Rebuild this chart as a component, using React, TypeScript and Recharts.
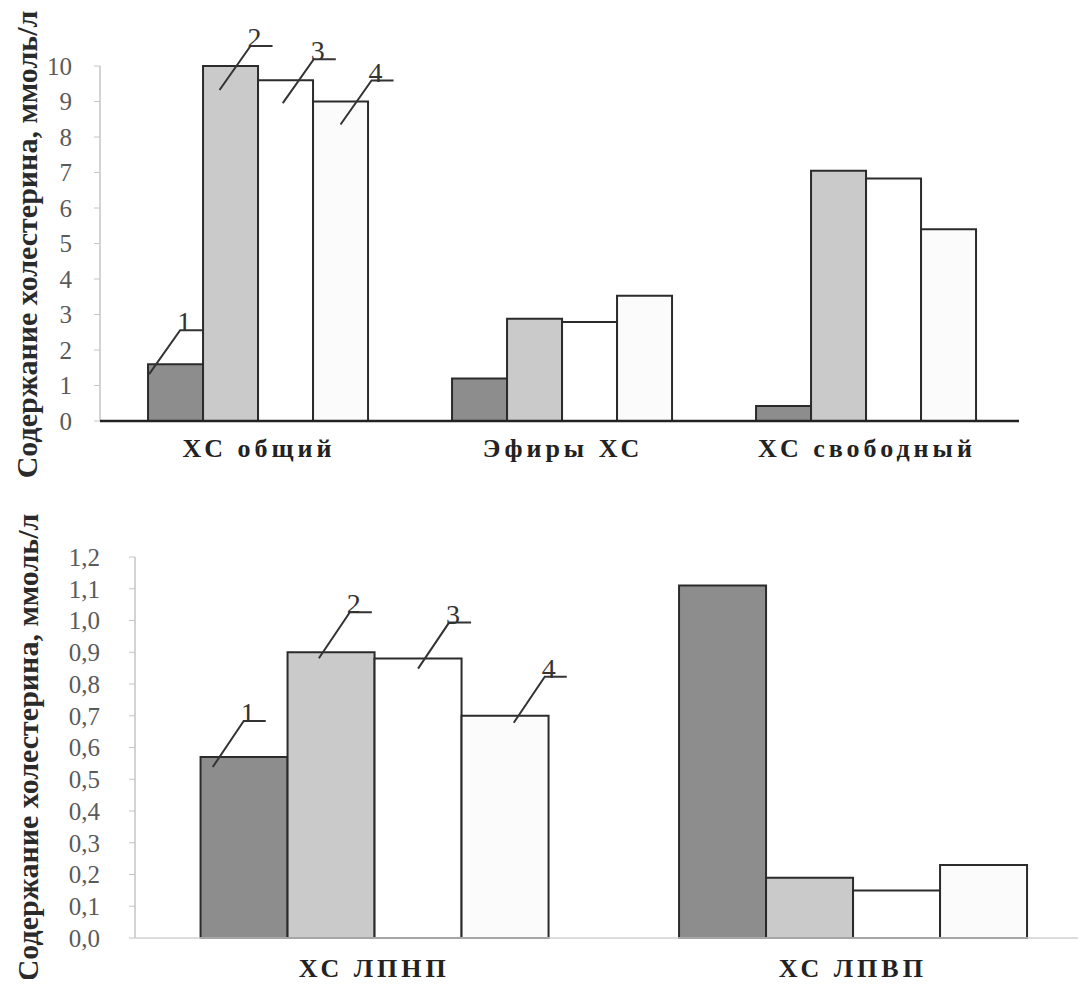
import React from 'react';
import { BarChart, Bar, XAxis, YAxis, LabelList } from 'recharts';

// top chart: total / esters / free cholesterol, mmol/l
const TOP_CATEGORIES = ['ХС общий', 'Эфиры ХС', 'ХС свободный'];
const TOP_GROUP1 = [1.6, 1.2, 0.42];
const TOP_GROUP2 = [10.0, 2.88, 7.05];
const TOP_GROUP3 = [9.6, 2.79, 6.83];
const TOP_GROUP4 = [9.0, 3.53, 5.4];
const TOP_TICKS = [0, 1, 2, 3, 4, 5, 6, 7, 8, 9, 10];

// bottom chart: LDL / HDL cholesterol, mmol/l
const BOTTOM_CATEGORIES = ['ХС ЛПНП', 'ХС ЛПВП'];
const BOTTOM_GROUP1 = [0.57, 1.11];
const BOTTOM_GROUP2 = [0.9, 0.19];
const BOTTOM_GROUP3 = [0.88, 0.15];
const BOTTOM_GROUP4 = [0.7, 0.23];
const BOTTOM_TICKS = [0, 0.1, 0.2, 0.3, 0.4, 0.5, 0.6, 0.7, 0.8, 0.9, 1.0, 1.1, 1.2];

const SERIES_NAMES = ['1', '2', '3', '4'];
const Y_TITLE = 'Содержание холестерина, ммоль/л';

const topData = TOP_CATEGORIES.map((name, i) => ({
  name, g1: TOP_GROUP1[i], g2: TOP_GROUP2[i], g3: TOP_GROUP3[i], g4: TOP_GROUP4[i],
}));
const bottomData = BOTTOM_CATEGORIES.map((name, i) => ({
  name, g1: BOTTOM_GROUP1[i], g2: BOTTOM_GROUP2[i], g3: BOTTOM_GROUP3[i], g4: BOTTOM_GROUP4[i],
}));

const SERIF = '"Liberation Serif", "DejaVu Serif", serif';
const FILLS = ['#8d8d8d', '#cacaca', '#ffffff', '#fbfbfb'];
const STROKE = '#2b2b2b';

// leader line shapes (start inside bar, up-right, then a short horizontal)
const TOP_LEADER = { fx: [0.02, 0.3, 0.45, 0.5], dy: [10, 24, 23, 23], jdx: 31, jdy: -44, len: 22 };
const BOTTOM_LEADER = { fx: [0.14, 0.36, 0.5, 0.6], dy: [10, 6, 10, 7], jdx: 31, jdy: -46, len: 22 };

const makeLeader = (s: number, cfg: typeof TOP_LEADER) => (props: any) => {
  if (props.index !== 0) return null;
  const vb = props.viewBox || {};
  const x = props.x ?? vb.x;
  const y = props.y ?? vb.y;
  const width = props.width ?? vb.width;
  const sx = x + width * cfg.fx[s];
  const sy = y + cfg.dy[s];
  const jx = sx + cfg.jdx;
  const jy = sy + cfg.jdy;
  return (
    <g>
      <polyline
        points={`${sx},${sy} ${jx},${jy} ${jx + cfg.len},${jy}`}
        fill="none"
        stroke="#333"
        strokeWidth={2}
      />
      <text x={jx + 4} y={jy + 1} textAnchor="middle" fontFamily={SERIF} fontSize={28} fill="#333">
        {SERIES_NAMES[s]}
      </text>
    </g>
  );
};

const makeTitle = (cx: number, shift: number) => (props: any) => {
  const vb = props.viewBox;
  const cy = vb.y + vb.height / 2 + shift;
  return (
    <text
      x={cx}
      y={cy}
      transform={`rotate(-90, ${cx}, ${cy})`}
      textAnchor="middle"
      fontFamily={SERIF}
      fontWeight="bold"
      fontSize={30}
      fill="#2a2a2a"
    >
      {Y_TITLE}
    </text>
  );
};

const yTick = { fontFamily: SERIF, fontSize: 25, fill: '#5a5a5a' };
const xTick = { fontFamily: SERIF, fontSize: 26, fontWeight: 'bold' as const, fill: '#222', letterSpacing: 4 };

export default function App() {
  const keys = ['g1', 'g2', 'g3', 'g4'];
  return (
    <div style={{ position: 'relative', width: 1086, height: 987, overflow: 'hidden', margin: -8, background: '#fff' }}>
      <div style={{ position: 'absolute', left: 0, top: 0 }}>
        <BarChart
          width={1086}
          height={480}
          data={topData}
          margin={{ top: 66, right: 67, bottom: 19, left: 0 }}
          barCategoryGap="13.5%"
          barGap={0}
        >
          <YAxis
            width={100}
            domain={[0, 10]}
            ticks={TOP_TICKS}
            interval={0}
            axisLine={{ stroke: '#c4c4c4', strokeWidth: 1.5 }}
            tickLine={{ stroke: '#c4c4c4' }}
            tickSize={6}
            tickMargin={22}
            tick={yTick}
            label={makeTitle(37, 1) as any}
          />
          <XAxis
            dataKey="name"
            height={40}
            padding={{ left: 7, right: 0 }}
            axisLine={{ stroke: '#222', strokeWidth: 2.5 }}
            tickLine={false}
            tickMargin={12}
            tick={xTick}
          />
          {keys.map((k, s) => (
            <Bar key={k} dataKey={k} fill={FILLS[s]} stroke={STROKE} strokeWidth={2} isAnimationActive={false}>
              <LabelList dataKey={k} content={makeLeader(s, TOP_LEADER)} />
            </Bar>
          ))}
        </BarChart>
      </div>
      <div style={{ position: 'absolute', left: 0, top: 490 }}>
        <BarChart
          width={1100}
          height={497}
          data={bottomData}
          margin={{ top: 67, right: 8, bottom: 9, left: 0 }}
          barCategoryGap="13.7%"
          barGap={0}
        >
          <YAxis
            width={135}
            domain={[0, 1.2]}
            ticks={BOTTOM_TICKS}
            interval={0}
            axisLine={{ stroke: '#c4c4c4', strokeWidth: 1.5 }}
            tickLine={{ stroke: '#c4c4c4' }}
            tickSize={6}
            tickMargin={29}
            tick={yTick}
            tickFormatter={(v: number) => v.toFixed(1).replace('.', ',')}
            label={makeTitle(38, 0) as any}
          />
          <XAxis
            dataKey="name"
            height={40}
            axisLine={{ stroke: '#d0d0d0', strokeWidth: 1.5 }}
            tickLine={false}
            tickMargin={15}
            tick={xTick}
          />
          {keys.map((k, s) => (
            <Bar key={k} dataKey={k} fill={FILLS[s]} stroke={STROKE} strokeWidth={2} isAnimationActive={false}>
              <LabelList dataKey={k} content={makeLeader(s, BOTTOM_LEADER)} />
            </Bar>
          ))}
        </BarChart>
      </div>
    </div>
  );
}
